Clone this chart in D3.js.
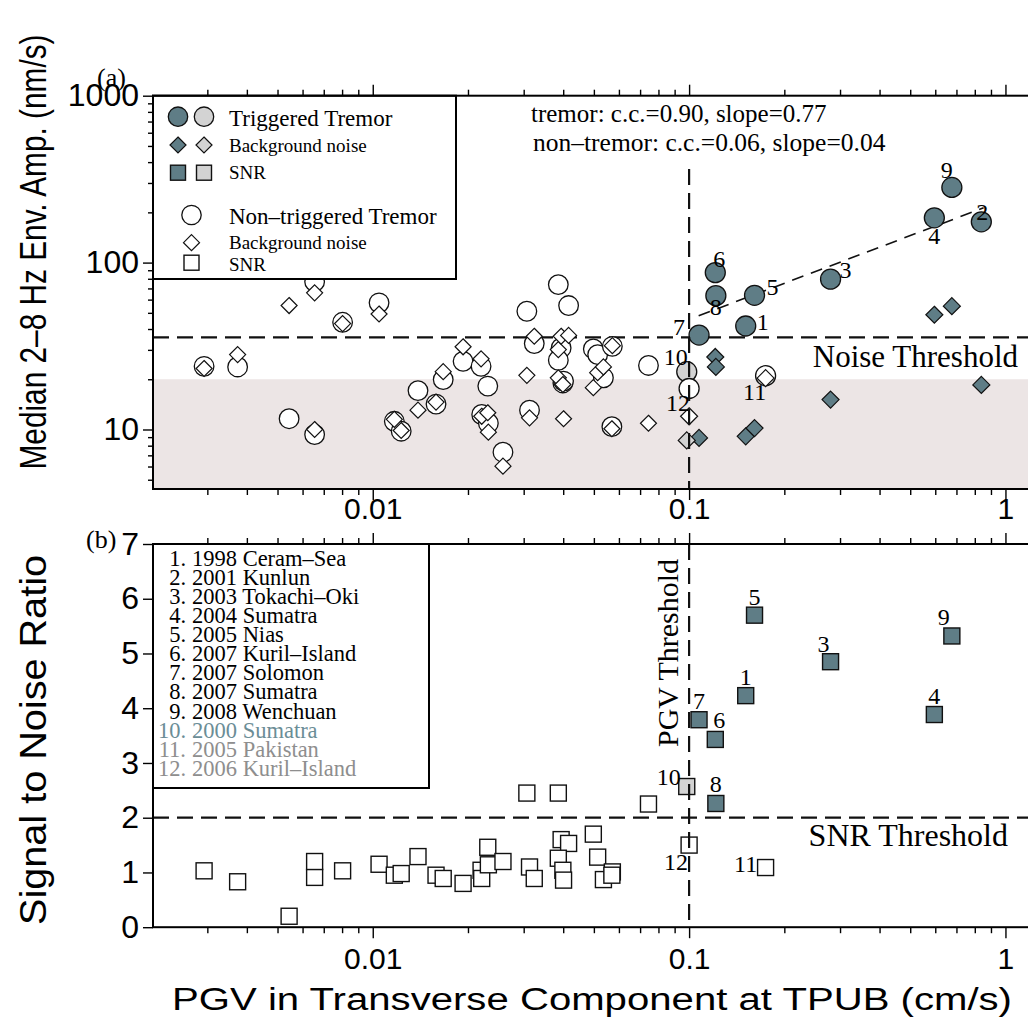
<!DOCTYPE html>
<html>
<head>
<meta charset="utf-8">
<script src="https://cdn.jsdelivr.net/npm/d3@7"></script>
<style>
  body { margin: 0; background: #fff; }
  svg { display: block; }
</style>
</head>
<body>
<div id="chart"></div>
<script>
// ---- data ----

// triggered events, numbered as in the legend of panel (b)
const eventNames = [
  "1998 Ceram–Sea", "2001 Kunlun", "2003 Tokachi–Oki", "2004 Sumatra",
  "2005 Nias", "2007 Kuril–Island", "2007 Solomon", "2007 Sumatra",
  "2008 Wenchuan", "2000 Sumatra", "2005 Pakistan", "2006 Kuril–Island",
];
// "trig" = triggered tremor, "weak" = grey (event 10), "none" = open (11, 12)
const eventKind = ["trig", "trig", "trig", "trig", "trig", "trig", "trig", "trig", "trig", "weak", "none", "none"];
const eventPgv = [0.151, 0.839, 0.280, 0.596, 0.161, 0.121, 0.1075, 0.1215, 0.677, 0.0983, 0.1745, 0.100];
const eventAmp = [41.7, 175.5, 79.6, 185.5, 63.7, 87.1, 36.8, 63.4, 282, 22.2, 21.0, 17.6];
const eventNoise = [9.1, 18.5, 15.1, 48.7, 10.2, 27.2, 8.9, 23.7, 54.8, 8.6, 20.3, 12.0];
const eventSnr = [4.23, null, 4.85, 3.885, 5.70, 3.43, 3.79, 2.26, 5.32, 2.57, 1.09, 1.50];

// non-triggered events
const quietPgv = [0.00293, 0.00374, 0.00544, 0.00655, 0.00655, 0.00803, 0.01047, 0.0117, 0.0123, 0.0139,
  0.01585, 0.0167, 0.0193, 0.0220, 0.0221, 0.0231, 0.0232, 0.0258, 0.0307, 0.0313,
  0.0324, 0.0386, 0.0394, 0.0416, 0.0386, 0.0399, 0.0401, 0.0498, 0.0514, 0.0536,
  0.0572, 0.0570, 0.0744];
const quietAmp = [23.9, 23.7, 11.6, 9.33, 76.9, 43.9, 57.4, 11.2, 9.77, 17.1,
  14.2, 19.9, 25.6, 23.9, 12.3, 18.2, 10.9, 7.31, 51.1, 13.05,
  32.7, 73.8, 30.8, 55.3, 26.0, 19.0, 19.5, 30.4, 28.1, 20.4,
  31.5, 10.4, 24.2];
const quietNoise = [23.2, 28.1, 55.3, 10.0, 65.9, 43.1, 49.2, 11.5, 9.86, 13.05,
  14.6, 22.2, 31.3, 26.5, 12.0, 12.6, 9.64, 6.03, 21.1, 11.75,
  36.2, 30.1, 36.2, 36.6, 20.4, 18.6, 11.6, 17.8, 21.9, 23.7,
  31.8, 10.1, 10.9];
const quietSnr = [1.03, 0.83, 0.20, 0.91, 1.20, 1.03, 1.15, 0.95, 0.98, 1.29,
  0.95, 0.89, 0.80, 1.04, 0.89, 1.46, 1.14, 1.20, 2.45, 1.10,
  0.89, 2.45, 1.60, 1.53, 1.26, 1.04, 0.86, 1.70, 1.28, 0.87,
  1.01, 0.95, 2.25];

// least-squares line through the triggered events (end points)
const fitPgv = [0.1072, 0.853];
const fitAmp = [48.0, 213];

const pgvThreshold = 0.1;
const noiseThreshold = 35.6;
const snrThreshold = 2;
const noiseBand = [4.4, 20];

const pgvTicks = [0.01, 0.1, 1];
const ampTicks = [10, 100, 1000];
const snrTicks = [0, 1, 2, 3, 4, 5, 6, 7];

// ---- layout ----
const width = 1028;
const height = 1027;
const left = 153;
const right = 1030.5;

const dark = "#5f7d86";
const light = "#d3d3d3";
const serif = "'Liberation Serif', 'Times New Roman', serif";
const sans = "'Liberation Sans', Arial, sans-serif";

// number label offsets (dx, dy) around the markers, panel a then panel b
const labelOffA = [[17, -4], [1, -10], [15, -9], [0, 18], [18, -8], [4, -14], [-20, -8], [0, 11], [-5, -17], [-11, -15], [-11, 16], [-11, 14]];
const labelOffB = [[0, -19], [0, -19], [-7, -18], [0, -19], [0, -18], [4, -19], [0, -19], [0, -19], [-8, -19], [-18, -10], [-20, -4], [-13, 17]];

const x = d3.scaleLog().domain([0.00202, 1.2]).range([left, right]);
const yA = d3.scaleLog().domain([4.4, 1000]).range([489, 95.7]);
const yB = d3.scaleLinear().domain([0, 7]).range([927.2, 544]);

const svg = d3.select("#chart").append("svg")
  .attr("width", width)
  .attr("height", height);

const fillFor = (k) => (k === "trig" ? dark : k === "weak" ? light : "#fff");

function diamond(g, cx, cy, r, fill) {
  g.append("path")
    .attr("d", `M${cx},${cy - r}L${cx + r},${cy}L${cx},${cy + r}L${cx - r},${cy}Z`)
    .attr("fill", fill).attr("stroke", "#111").attr("stroke-width", 1.2);
}
function square(g, cx, cy, s, fill) {
  g.append("rect")
    .attr("x", cx - s / 2).attr("y", cy - s / 2).attr("width", s).attr("height", s)
    .attr("fill", fill).attr("stroke", "#111").attr("stroke-width", 1.4);
}
function circle(g, cx, cy, r, fill) {
  g.append("circle")
    .attr("cx", cx).attr("cy", cy).attr("r", r)
    .attr("fill", fill).attr("stroke", "#111").attr("stroke-width", 1.3);
}

// x axes with log minor ticks, outward on top and bottom
function xAxes(top, bottom, pad) {
  const minor = x.ticks().filter((d) => !pgvTicks.includes(d));
  svg.append("g").attr("transform", `translate(0,${bottom})`)
    .call(d3.axisBottom(x).tickValues(minor).tickSize(6).tickFormat(""))
    .call((g) => g.select(".domain").remove());
  svg.append("g").attr("transform", `translate(0,${bottom})`)
    .call(d3.axisBottom(x).tickValues(pgvTicks).tickSize(11).tickPadding(pad)
      .tickFormat((d) => String(d)))
    .call((g) => g.select(".domain").remove())
    .call((g) => g.selectAll("text").attr("font-family", sans).attr("font-size", 30).attr("fill", "#000"));
  svg.append("g").attr("transform", `translate(0,${top})`)
    .call(d3.axisTop(x).tickValues(minor).tickSize(6).tickFormat(""))
    .call((g) => g.select(".domain").remove());
  svg.append("g").attr("transform", `translate(0,${top})`)
    .call(d3.axisTop(x).tickValues(pgvTicks).tickSize(11).tickFormat(""))
    .call((g) => g.select(".domain").remove());
}

// ================= panel (a) =================
const pa = svg.append("g");
pa.append("rect")
  .attr("x", left).attr("width", right - left)
  .attr("y", yA(noiseBand[1])).attr("height", yA(noiseBand[0]) - yA(noiseBand[1]))
  .attr("fill", "#ece5e5");

pa.append("line")
  .attr("x1", left).attr("x2", right)
  .attr("y1", yA(noiseThreshold)).attr("y2", yA(noiseThreshold))
  .attr("stroke", "#111").attr("stroke-width", 2.2).attr("stroke-dasharray", "16,8");

pa.append("path")
  .datum(fitPgv.map((d, i) => [d, fitAmp[i]]))
  .attr("d", d3.line().x((d) => x(d[0])).y((d) => yA(d[1])))
  .attr("fill", "none").attr("stroke", "#111").attr("stroke-width", 1.6)
  .attr("stroke-dasharray", "12,8");

// non-triggered: circles then diamonds on top
quietPgv.forEach((p, i) => circle(pa, x(p), yA(quietAmp[i]), 9.8, "#fff"));
quietPgv.forEach((p, i) => diamond(pa, x(p), yA(quietNoise[i]), 8, "#fff"));
eventPgv.forEach((p, i) => circle(pa, x(p), yA(eventAmp[i]), 10, fillFor(eventKind[i])));
eventPgv.forEach((p, i) => diamond(pa, x(p), yA(eventNoise[i]), 8.5, fillFor(eventKind[i])));

eventPgv.forEach((p, i) => {
  pa.append("text")
    .attr("x", x(p) + labelOffA[i][0]).attr("y", yA(eventAmp[i]) + labelOffA[i][1])
    .attr("text-anchor", "middle").attr("dominant-baseline", "central")
    .attr("font-family", serif).attr("font-size", 24)
    .text(i + 1);
});

// PGV threshold (drawn above the markers)
pa.append("line")
  .attr("x1", x(pgvThreshold)).attr("x2", x(pgvThreshold))
  .attr("y1", 169).attr("y2", yA(noiseBand[0]))
  .attr("stroke", "#111").attr("stroke-width", 2.2).attr("stroke-dasharray", "16,8");

pa.append("text")
  .attr("x", 1018).attr("y", 367)
  .attr("text-anchor", "end").attr("font-family", serif).attr("font-size", 31)
  .text("Noise Threshold");

pa.append("text").attr("x", 531).attr("y", 122)
  .attr("font-family", serif).attr("font-size", 25)
  .text("tremor: c.c.=0.90, slope=0.77");
pa.append("text").attr("x", 533).attr("y", 151)
  .attr("font-family", serif).attr("font-size", 25.5)
  .text("non–tremor: c.c.=0.06, slope=0.04");

// legend (a)
const la = svg.append("g");
la.append("rect").attr("x", left).attr("y", 95.7).attr("width", 456 - left).attr("height", 279 - 95.7)
  .attr("fill", "#fff").attr("stroke", "#000").attr("stroke-width", 2);
circle(la, 178, 116.7, 9.7, dark);
circle(la, 204, 116.7, 9.7, light);
diamond(la, 178, 145, 8, dark);
diamond(la, 204, 145, 8, light);
square(la, 178, 172.7, 15, dark);
square(la, 204, 172.7, 15, light);
circle(la, 191.5, 215, 9.7, "#fff");
diamond(la, 191.5, 242.7, 8, "#fff");
square(la, 191.5, 262.7, 15, "#fff");
const legA = [
  ["Triggered Tremor", 126, 23],
  ["Background noise", 152, 19],
  ["SNR", 179, 19],
  ["Non–triggered Tremor", 223.5, 23],
  ["Background noise", 248.5, 19],
  ["SNR", 271, 19],
];
legA.forEach(([t, yy, fs]) => {
  la.append("text").attr("x", 229).attr("y", yy)
    .attr("font-family", serif).attr("font-size", fs).text(t);
});

// frame + axes (a)
svg.append("rect").attr("x", left).attr("y", 95.7).attr("width", right - left).attr("height", 489 - 95.7)
  .attr("fill", "none").attr("stroke", "#000").attr("stroke-width", 2);
xAxes(95.7, 489, -2);
svg.append("g").attr("transform", `translate(${left},0)`)
  .call(d3.axisLeft(yA).tickValues(yA.ticks().filter((d) => !ampTicks.includes(d))).tickSize(5).tickFormat(""))
  .call((g) => g.select(".domain").remove());
svg.append("g").attr("transform", `translate(${left},0)`)
  .call(d3.axisLeft(yA).tickValues(ampTicks).tickSize(10).tickPadding(4).tickFormat(d3.format("d")))
  .call((g) => g.select(".domain").remove())
  .call((g) => g.selectAll("text").attr("font-family", sans).attr("font-size", 32).attr("fill", "#000"));

// ================= panel (b) =================
const pb = svg.append("g");
pb.append("line")
  .attr("x1", left).attr("x2", right)
  .attr("y1", yB(snrThreshold)).attr("y2", yB(snrThreshold))
  .attr("stroke", "#111").attr("stroke-width", 2.2).attr("stroke-dasharray", "16,8");

quietPgv.forEach((p, i) => square(pb, x(p), yB(quietSnr[i]), 16, "#fff"));
eventPgv.forEach((p, i) => {
  if (eventSnr[i] == null) return;
  square(pb, x(p), yB(eventSnr[i]), 16, fillFor(eventKind[i]));
  pb.append("text")
    .attr("x", x(p) + labelOffB[i][0]).attr("y", yB(eventSnr[i]) + labelOffB[i][1])
    .attr("text-anchor", "middle").attr("dominant-baseline", "central")
    .attr("font-family", serif).attr("font-size", 24)
    .text(i + 1);
});

pb.append("line")
  .attr("x1", x(pgvThreshold)).attr("x2", x(pgvThreshold))
  .attr("y1", yB(7)).attr("y2", yB(0))
  .attr("stroke", "#111").attr("stroke-width", 2.2).attr("stroke-dasharray", "16,8");

pb.append("text")
  .attr("x", 1008).attr("y", 846)
  .attr("text-anchor", "end").attr("font-family", serif).attr("font-size", 32)
  .text("SNR Threshold");
pb.append("text")
  .attr("transform", `translate(678,747) rotate(-90)`)
  .attr("font-family", serif).attr("font-size", 30)
  .text("PGV Threshold");

// legend (b)
const lb = svg.append("g");
lb.append("rect").attr("x", left).attr("y", 544).attr("width", 429 - left).attr("height", 788 - 544)
  .attr("fill", "#fff").attr("stroke", "#000").attr("stroke-width", 2);
eventNames.forEach((name, i) => {
  const col = i < 9 ? "#000" : i === 9 ? "#6b8d96" : "#8e8e8e";
  const yy = 566 + i * 19.07;
  lb.append("text").attr("x", 186).attr("y", yy).attr("text-anchor", "end")
    .attr("font-family", serif).attr("font-size", 22.5).attr("fill", col).text(`${i + 1}.`);
  lb.append("text").attr("x", 192).attr("y", yy)
    .attr("font-family", serif).attr("font-size", 22.5).attr("fill", col).text(name);
});

svg.append("rect").attr("x", left).attr("y", 544).attr("width", right - left).attr("height", 927.2 - 544)
  .attr("fill", "none").attr("stroke", "#000").attr("stroke-width", 2);
xAxes(544, 927.2, 10);
svg.append("g").attr("transform", `translate(${left},0)`)
  .call(d3.axisLeft(yB).tickValues(snrTicks).tickSize(10).tickPadding(4).tickFormat(d3.format("d")))
  .call((g) => g.select(".domain").remove())
  .call((g) => g.selectAll("text").attr("font-family", sans).attr("font-size", 32).attr("fill", "#000"));

svg.selectAll(".tick line").attr("stroke", "#000").attr("stroke-width", 1.4);

// panel letters and axis titles
svg.append("text").attr("x", 97).attr("y", 86).attr("font-family", serif).attr("font-size", 26).text("(a)");
svg.append("text").attr("x", 86).attr("y", 548).attr("font-family", serif).attr("font-size", 26).text("(b)");

svg.append("text")
  .attr("transform", "translate(46,252) rotate(-90)")
  .attr("text-anchor", "middle").attr("font-family", sans).attr("font-size", 36)
  .attr("textLength", 435).attr("lengthAdjust", "spacingAndGlyphs")
  .text("Median 2–8 Hz Env. Amp. (nm/s)");
svg.append("text")
  .attr("transform", "translate(46,740) rotate(-90)")
  .attr("text-anchor", "middle").attr("font-family", sans).attr("font-size", 36)
  .attr("textLength", 370).attr("lengthAdjust", "spacingAndGlyphs")
  .text("Signal to Noise Ratio");
svg.append("text")
  .attr("x", 592).attr("y", 1010)
  .attr("text-anchor", "middle").attr("font-family", sans).attr("font-size", 31)
  .attr("textLength", 840).attr("lengthAdjust", "spacingAndGlyphs")
  .text("PGV in Transverse Component at TPUB (cm/s)");
</script>
</body>
</html>
